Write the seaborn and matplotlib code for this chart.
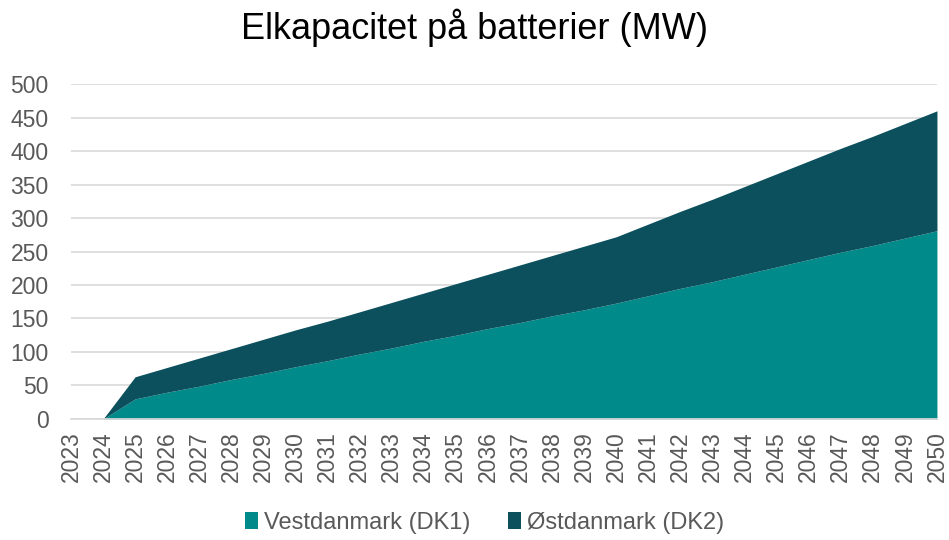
import numpy as np
import pandas as pd
import matplotlib
matplotlib.use("Agg")
import matplotlib.pyplot as plt
import seaborn as sns

# data (MW)
years = list(range(2023, 2051))
dk1 = [np.nan, 0, 30, 40, 49, 59, 68, 78, 87, 97, 106, 116, 125, 135, 144, 154, 163, 173,
       184, 195, 205, 216, 227, 238, 249, 259, 270, 281]
dk2 = [np.nan, 0, 33, 37, 42, 46, 51, 55, 59, 63, 68, 72, 77, 81, 86, 90, 95, 99,
       107, 115, 123, 131, 139, 147, 155, 163, 171, 179]
labels = ["Vestdanmark (DK1)", "Østdanmark (DK2)"]
colors = ["#008B8A", "#0B505C"]
yticks = list(range(0, 501, 50))

df = pd.DataFrame({"year": years, labels[0]: dk1, labels[1]: dk2})

sns.set_theme(style="white")
plt.rcParams["font.family"] = ["Liberation Sans", "DejaVu Sans"]

fig = plt.figure(figsize=(9.49, 5.4), dpi=100)
ax = fig.add_axes([0.0748, 0.2241, 0.9125, 0.6203])

d = df.dropna()
ax.stackplot(d["year"], d[labels[0]], d[labels[1]], colors=colors, labels=labels, linewidth=0)

ax.set_xlim(2023, 2050)
ax.set_ylim(0, 500)
ax.set_yticks(yticks)
ax.set_xticks(years)
ax.set_xticklabels([str(y) for y in years], rotation=90)
ax.grid(axis="y", color="#D9D9D9", linewidth=1.2)
ax.set_axisbelow(True)
ax.tick_params(axis="both", labelsize=16.5, colors="#595959", length=0)
ax.tick_params(axis="y", pad=16)
ax.tick_params(axis="x", pad=9)
for s in ["top", "right", "left"]:
    ax.spines[s].set_visible(False)
ax.spines["bottom"].set_color("#D9D9D9")

fig.suptitle("Elkapacitet på batterier (MW)", fontsize=26, y=0.985, color="black")

ax.legend(loc="center", bbox_to_anchor=(0.511, 0.032), bbox_transform=fig.transFigure,
          ncol=2, frameon=False, fontsize=17, handlelength=0.55, handleheight=0.75,
          handletextpad=0.25, columnspacing=1.6, labelcolor="#595959")

fig.savefig("out.png", dpi=100)
